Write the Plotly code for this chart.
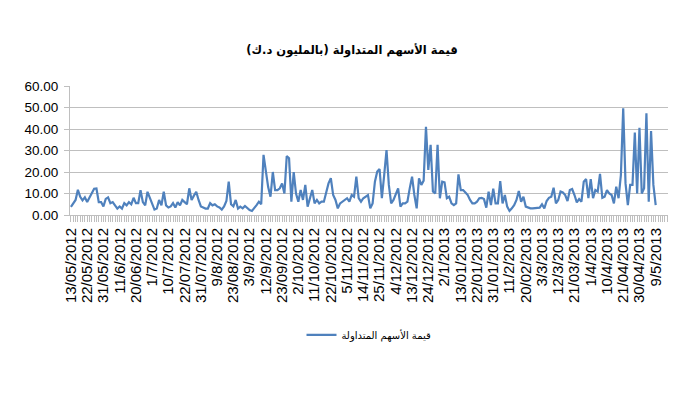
import plotly.graph_objects as go

series_name = "قيمة الأسهم المتداولة"
chart_title = "قيمة الأسهم المتداولة (بالمليون د.ك)"

values = [
    3.8, 5.2, 7.0, 11.7, 8.5, 6.8, 8.2, 6.0, 8.0, 10.5,
    12.2, 12.3, 6.0, 6.0, 4.0, 7.5, 8.2, 5.5, 6.0, 4.5,
    3.0, 4.0, 3.0, 5.5, 4.5, 6.0, 5.0, 8.0, 5.5, 5.5,
    11.5, 6.0, 4.5, 10.8, 8.0, 5.0, 2.5, 3.0, 7.0, 4.5,
    10.8, 4.5, 3.5, 4.0, 5.5, 3.5, 6.0, 4.5, 7.0, 6.0,
    5.0, 12.4, 7.0, 9.0, 10.8, 7.0, 4.0, 3.5, 3.0, 3.0,
    5.5, 4.5, 5.0, 4.0, 3.5, 2.5, 4.0, 6.5, 15.5, 5.0,
    4.0, 7.0, 3.0, 3.9, 3.1, 4.2, 3.1, 2.3, 1.9, 3.1,
    4.6, 6.2, 5.0, 28.0, 20.0, 13.0, 8.5, 20.0, 11.6, 11.6,
    12.4, 14.7, 10.0, 27.4, 26.4, 6.2, 20.0, 10.0, 6.2, 11.6,
    7.0, 14.0, 3.9, 7.8, 11.6, 5.4, 7.0, 5.4, 6.2, 6.2,
    10.9, 14.7, 17.1, 9.3, 7.0, 3.1, 5.4, 6.2, 7.0, 7.8,
    6.2, 9.3, 8.5, 17.8, 7.8, 6.2, 7.8, 8.5, 9.3, 3.1,
    5.4, 15.5, 20.2, 21.4, 7.8, 18.6, 30.2, 14.0, 5.4, 7.0,
    9.3, 12.4, 3.9, 5.4, 5.4, 6.2, 12.4, 17.8, 9.3, 3.1,
    17.1, 14.0, 16.0, 41.0, 21.0, 32.6, 10.9, 10.0, 32.6, 7.8,
    15.5, 15.2, 7.8, 8.5, 5.4, 4.6, 5.4, 18.9, 11.6, 11.6,
    10.5, 9.3, 7.0, 5.4, 5.4, 6.2, 7.8, 8.0, 7.4, 3.4,
    10.9, 4.6, 12.3, 5.4, 5.4, 15.8, 5.4, 9.3, 3.9, 1.9,
    3.1, 4.6, 7.0, 11.2, 6.2, 8.5, 3.9, 3.4, 3.1, 3.1,
    3.1, 3.1, 3.4, 5.0, 3.1, 6.5, 8.0, 8.5, 12.7, 5.4,
    7.0, 10.9, 10.5, 9.3, 6.5, 11.6, 12.1, 9.3, 5.9, 7.4,
    6.2, 15.5, 16.7, 7.8, 16.7, 7.8, 11.6, 10.9, 19.1, 8.0,
    8.5, 11.6, 10.0, 9.3, 5.4, 13.2, 7.8, 18.6, 49.6, 14.7,
    4.6, 14.0, 14.0, 38.4, 10.0, 40.6, 10.0, 12.4, 47.3, 6.2,
    39.0, 14.0, 4.6,
]

tick_labels = [
    "13/05/2012", "22/05/2012", "31/05/2012", "11/6/2012", "20/06/2012",
    "1/7/2012", "10/7/2012", "22/07/2012", "31/07/2012", "9/8/2012",
    "23/08/2012", "3/9/2012", "12/9/2012", "23/09/2012", "2/10/2012",
    "11/10/2012", "22/10/2012", "5/11/2012", "14/11/2012", "25/11/2012",
    "4/12/2012", "13/12/2012", "24/12/2012", "2/1/2013", "13/01/2013",
    "22/01/2013", "31/01/2013", "11/2/2013", "20/02/2013", "3/3/2013",
    "12/3/2013", "21/03/2013", "1/4/2013", "10/4/2013", "21/04/2013",
    "30/04/2013", "9/5/2013",
]
label_step = 7

x_idx = list(range(len(values)))
tick_vals = [i * label_step for i in range(len(tick_labels))]

fig = go.Figure()
fig.add_trace(go.Scatter(
    x=x_idx, y=values, mode="lines", name=series_name,
    line=dict(color="#4F81BD", width=2.2),
))

grid = "#BFBFBF"
W, H = 692, 385  # page body has an 8px margin
fig.update_layout(
    width=W, height=H,
    paper_bgcolor="white", plot_bgcolor="white",
    margin=dict(l=62, r=32, t=78, b=178),
    title=dict(text="<b>" + chart_title + "</b>", x=(352 - 8) / W, xanchor="center",
               y=1 - 42 / H, yanchor="middle", yref="container",
               font=dict(family="DejaVu Sans, Liberation Sans", size=11.5, color="#000")),
    showlegend=True,
    legend=dict(orientation="h", x=0.5, xanchor="center", y=-0.93, yanchor="middle",
                font=dict(family="DejaVu Sans, Liberation Sans", size=10, color="#000")),
    font=dict(family="Liberation Sans, DejaVu Sans", color="#000"),
)
fig.update_xaxes(
    range=[-0.4, 257.3],
    tickmode="array", tickvals=tick_vals, ticktext=tick_labels,
    tickangle=-90, tickfont=dict(size=15, color="#000"),
    showgrid=False, showline=True, linecolor=grid, linewidth=1,
    ticks="outside", ticklen=6, tickcolor=grid,
    minor=dict(tickmode="linear", tick0=0, dtick=1, ticks="outside",
               ticklen=6, tickcolor=grid, showgrid=False),
    zeroline=False,
)
fig.update_yaxes(
    range=[0, 60], dtick=10, tickformat=".2f",
    tickfont=dict(size=13.5, color="#000"),
    showgrid=True, gridcolor=grid, gridwidth=1,
    showline=True, linecolor=grid, linewidth=1,
    ticks="outside", ticklen=5, tickcolor=grid, ticklabelstandoff=3,
    zeroline=False,
)

fig.write_html("out.html")
